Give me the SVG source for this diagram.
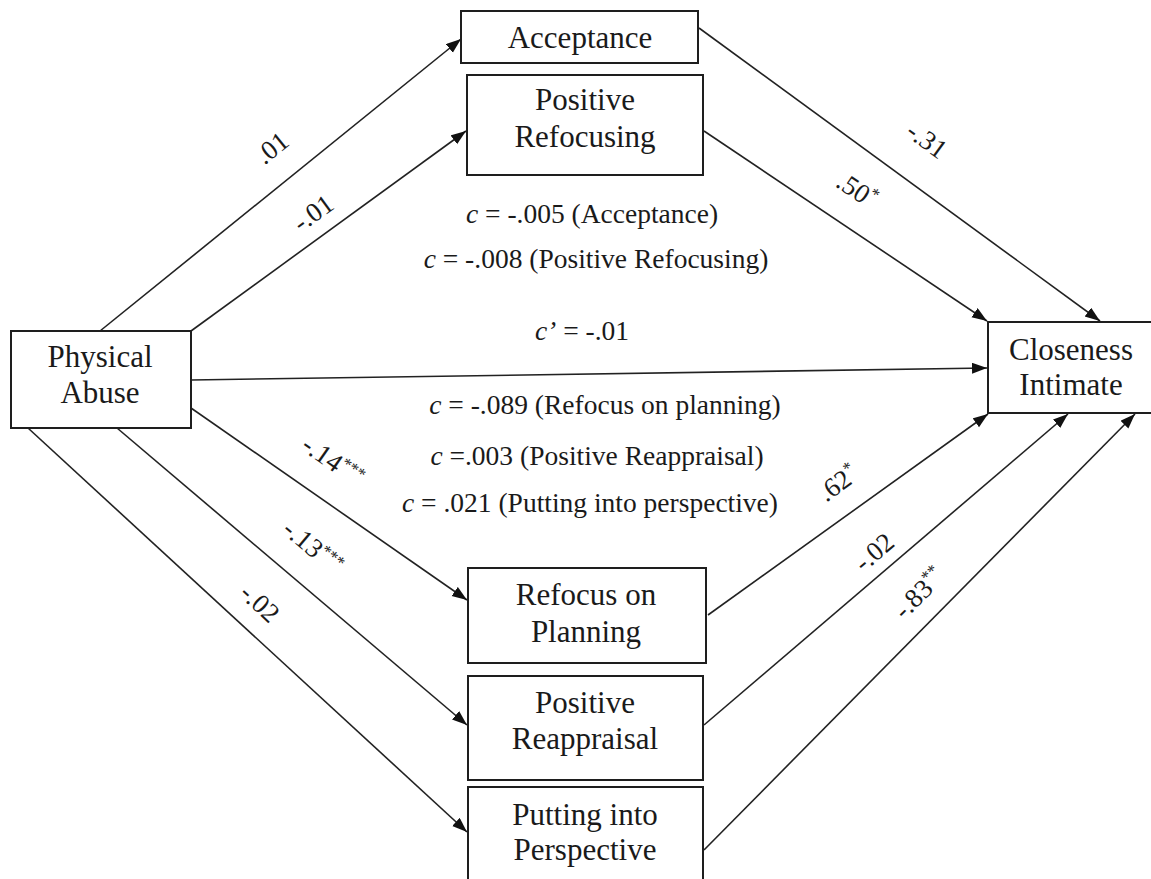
<svg xmlns="http://www.w3.org/2000/svg" width="1151" height="879" viewBox="0 0 1151 879">
  <style>
    .box { fill: #ffffff; stroke: #1e1e1e; stroke-width: 2; }
    .lbl { font-family: "Liberation Serif", "Times New Roman", serif; font-size: 31px; fill: #1a1a1a; text-anchor: middle; }
    .eff { font-family: "Liberation Serif", "Times New Roman", serif; font-size: 27.5px; fill: #1a1a1a; text-anchor: middle; }
    .coef { font-family: "Liberation Serif", "Times New Roman", serif; font-size: 27px; fill: #1a1a1a; text-anchor: middle; dominant-baseline: central; }
    .it { font-style: italic; }
    .sup { font-size: 17px; }
    .edge { fill: none; stroke: #222222; stroke-width: 1.6; marker-end: url(#arrow); }
  </style>
  <defs>
    <marker id="arrow" markerUnits="userSpaceOnUse" markerWidth="16" markerHeight="12" refX="15" refY="5.5" orient="auto">
      <path d="M0,0 L15,5.5 L0,11 z" fill="#111111"/>
    </marker>
  </defs>
  <rect width="1151" height="879" fill="#ffffff"/>

  <!-- connectors -->
  <g id="connectors">
    <path class="edge" d="M100,331 L461,39"/>
    <path class="edge" d="M191,331 L466,131"/>
    <path class="edge" d="M699,28 L1100,321"/>
    <path class="edge" d="M704,131 L987,321"/>
    <path class="edge" d="M191,380 L987,368"/>
    <path class="edge" d="M191,408 L467,600"/>
    <path class="edge" d="M117,428 L467,725"/>
    <path class="edge" d="M28,428 L467,832"/>
    <path class="edge" d="M708,615 L988,414"/>
    <path class="edge" d="M704,725 L1068,414"/>
    <path class="edge" d="M704,850 L1135,414"/>

    <!-- path coefficients -->
    <text class="coef" transform="translate(272,148) rotate(-39)">.01</text>
    <text class="coef" transform="translate(313,213) rotate(-36)">-.01</text>
    <text class="coef" transform="translate(927,140) rotate(36)">-.31</text>
    <text class="coef" transform="translate(857,190) rotate(34)">.50<tspan class="sup" dy="-7">*</tspan></text>
    <text class="coef" transform="translate(333,461) rotate(35)">-.14<tspan class="sup" dy="-6">***</tspan></text>
    <text class="coef" transform="translate(313,547) rotate(40)">-.13<tspan class="sup" dy="-6">***</tspan></text>
    <text class="coef" transform="translate(260,603) rotate(43)">-.02</text>
    <text class="coef" transform="translate(838,483) rotate(-36)">.62<tspan class="sup" dy="-7">*</tspan></text>
    <text class="coef" transform="translate(874,552) rotate(-40.5)">-.02</text>
    <text class="coef" transform="translate(919,593) rotate(-45)">-.83<tspan class="sup" dy="-7">**</tspan></text>
  </g>

  <!-- total and direct effects -->
  <g id="effects">
    <text class="eff" x="592" y="223"><tspan class="it">c</tspan> = -.005 (Acceptance)</text>
    <text class="eff" x="596" y="268"><tspan class="it">c</tspan> = -.008 (Positive Refocusing)</text>
    <text class="eff" x="582" y="340" font-size="29"><tspan class="it">c’</tspan> = -.01</text>
    <text class="eff" x="605" y="414"><tspan class="it">c</tspan> = -.089 (Refocus on planning)</text>
    <text class="eff" x="597" y="465"><tspan class="it">c</tspan> =.003 (Positive Reappraisal)</text>
    <text class="eff" x="590" y="512"><tspan class="it">c</tspan> = .021 (Putting into perspective)</text>
  </g>

  <g id="physical-abuse">
    <rect class="box" x="11" y="331" width="180" height="97"/>
    <text class="lbl" x="100" y="367">Physical</text>
    <text class="lbl" x="100" y="403">Abuse</text>
  </g>

  <g id="acceptance">
    <rect class="box" x="461" y="11" width="237" height="52"/>
    <text class="lbl" x="580" y="48">Acceptance</text>
  </g>

  <g id="positive-refocusing">
    <rect class="box" x="467" y="75" width="236" height="100"/>
    <text class="lbl" x="585" y="110">Positive</text>
    <text class="lbl" x="585" y="147">Refocusing</text>
  </g>

  <g id="closeness-intimate">
    <rect class="box" x="988" y="322" width="170" height="91"/>
    <text class="lbl" x="1071" y="360">Closeness</text>
    <text class="lbl" x="1071" y="395">Intimate</text>
  </g>

  <g id="refocus-on-planning">
    <rect class="box" x="468" y="568" width="238" height="95"/>
    <text class="lbl" x="586" y="605">Refocus on</text>
    <text class="lbl" x="586" y="642">Planning</text>
  </g>

  <g id="positive-reappraisal">
    <rect class="box" x="468" y="676" width="235" height="104"/>
    <text class="lbl" x="585" y="713">Positive</text>
    <text class="lbl" x="585" y="749">Reappraisal</text>
  </g>

  <g id="putting-into-perspective">
    <rect class="box" x="468" y="787" width="235" height="110"/>
    <text class="lbl" x="585" y="825">Putting into</text>
    <text class="lbl" x="585" y="860">Perspective</text>
  </g>
</svg>
